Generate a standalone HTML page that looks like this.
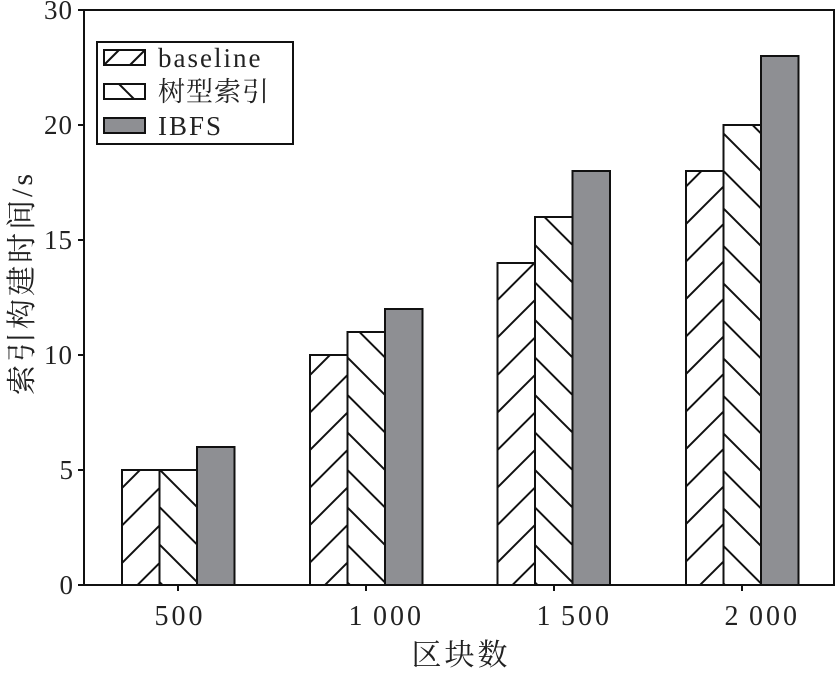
<!DOCTYPE html>
<html><head><meta charset="utf-8"><style>
body{margin:0;background:#fff}
text{font-family:"Liberation Serif","Noto Serif CJK SC",serif;fill:#222}
</style></head><body>
<svg width="838" height="671" xmlns="http://www.w3.org/2000/svg">
<defs>
<pattern id="f" patternUnits="userSpaceOnUse" width="37.5" height="37.5" x="0" y="10">
<line x1="-2" y1="39.5" x2="39.5" y2="-2" stroke="#111" stroke-width="2"/>
<line x1="-10" y1="10" x2="10" y2="-10" stroke="#111" stroke-width="2"/>
<line x1="27.5" y1="47.5" x2="47.5" y2="27.5" stroke="#111" stroke-width="2"/>
</pattern>
<pattern id="b" patternUnits="userSpaceOnUse" width="37.5" height="37.5" x="0" y="10">
<line x1="-2" y1="-2" x2="39.5" y2="39.5" stroke="#111" stroke-width="2"/>
<line x1="-10" y1="27.5" x2="10" y2="47.5" stroke="#111" stroke-width="2"/>
<line x1="27.5" y1="-10" x2="47.5" y2="10" stroke="#111" stroke-width="2"/>
</pattern>
</defs>
<g stroke="#111" stroke-width="2">
<rect x="122" y="470" width="37.5" height="115" fill="url(#f)"/>
<rect x="159.5" y="470" width="37.5" height="115" fill="url(#b)"/>
<rect x="197" y="447" width="37.5" height="138" fill="#8e8f93"/>
<rect x="310" y="355" width="37.5" height="230" fill="url(#f)"/>
<rect x="347.5" y="332" width="37.5" height="253" fill="url(#b)"/>
<rect x="385" y="309" width="37.5" height="276" fill="#8e8f93"/>
<rect x="497.5" y="263" width="37.5" height="322" fill="url(#f)"/>
<rect x="535" y="217" width="37.5" height="368" fill="url(#b)"/>
<rect x="572.5" y="171" width="37.5" height="414" fill="#8e8f93"/>
<rect x="686" y="171" width="37.5" height="414" fill="url(#f)"/>
<rect x="723.5" y="125" width="37.5" height="460" fill="url(#b)"/>
<rect x="761" y="56" width="37.5" height="529" fill="#8e8f93"/>
<rect x="84" y="10" width="750" height="575" fill="none"/>
<line x1="78" y1="585" x2="84" y2="585"/><line x1="78" y1="470" x2="84" y2="470"/>
<line x1="78" y1="355" x2="84" y2="355"/><line x1="78" y1="240" x2="84" y2="240"/>
<line x1="78" y1="125" x2="84" y2="125"/><line x1="78" y1="10" x2="84" y2="10"/>
<line x1="178" y1="585" x2="178" y2="591"/><line x1="366" y1="585" x2="366" y2="591"/>
<line x1="554" y1="585" x2="554" y2="591"/><line x1="742" y1="585" x2="742" y2="591"/>
<rect x="97" y="42" width="196" height="102" fill="#fff"/>
<rect x="104" y="50" width="41" height="15" fill="#fff"/>
<line x1="104" y1="65" x2="119" y2="50"/><line x1="130" y1="65" x2="145" y2="50"/>
<rect x="104" y="84" width="41" height="15" fill="#fff"/>
<line x1="119" y1="84" x2="134" y2="99"/>
<rect x="104" y="118" width="41" height="15" fill="#8e8f93"/>
</g>
<g font-size="27" letter-spacing="2">
<text x="158" y="67">baseline</text>
<text x="158" y="101" letter-spacing="1">树型索引</text>
<text x="158" y="135">IBFS</text>
</g>
<g font-size="27" text-anchor="end">
<text x="73" y="594">0</text><text x="73" y="479">5</text><text x="73" y="364" letter-spacing="1">10</text>
<text x="73" y="249" letter-spacing="1">15</text><text x="73" y="134" letter-spacing="1">20</text><text x="73" y="19" letter-spacing="1">30</text>
</g>
<g font-size="28" text-anchor="middle" letter-spacing="3">
<text x="180" y="625">500</text><text x="357" y="625">1</text><text x="373" y="625" text-anchor="start">000</text>
<text x="545" y="625">1</text><text x="561" y="625" text-anchor="start">500</text>
<text x="733" y="625">2</text><text x="749" y="625" text-anchor="start">000</text>
<text x="461" y="665" font-size="30" letter-spacing="3">区块数</text>
<text transform="translate(32,283) rotate(-90)" font-size="30" letter-spacing="3">索引构建时间/s</text>
</g>
</svg>
</body></html>
